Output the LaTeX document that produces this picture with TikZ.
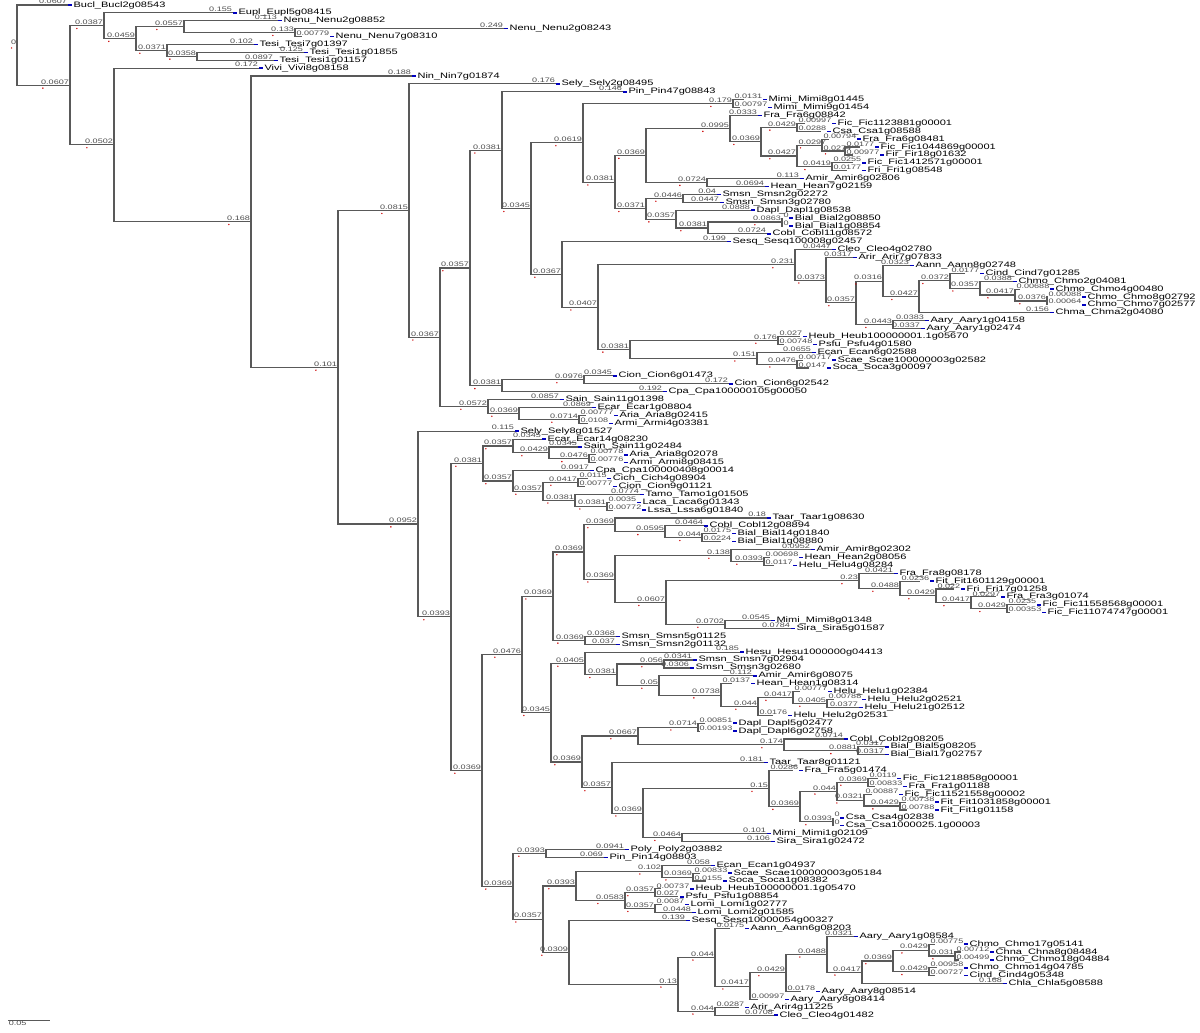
\documentclass[tikz,border=0pt]{standalone}
\usepackage{fontspec}
\usetikzlibrary{calc}
\newfontfamily\trf[FakeStretch=1.4]{Liberation Sans}
\newcommand\lbfont{\trf\fontsize{4.6}{5}\selectfont}
\newcommand\nmfont{\trf\fontsize{5.6}{6}\selectfont}
\tikzset{br/.style={draw=black!65,line width=0.8pt},
 bl/.style={font=\lbfont,text=black!70,inner sep=0.4pt},
 lf/.style={font=\nmfont,text=black,anchor=west,inner sep=0.6pt},
 bm/.style={draw=blue!75!black,line width=1pt},
 rd/.style={fill=red!80!black}}
% inner node: parent, name, x, y, branch length
\newcommand\inode[5]{\coordinate (#2) at (#3,#4);
 \draw[br] (#1) |- (#2) node[bl,anchor=south east] (l#2) {#5};
 \fill[rd] (#2) circle (0.55pt) ([xshift=2pt,yshift=-2pt]l#2.south west) circle (0.55pt);}
\newcommand\inodes[5]{\coordinate (#2) at (#3,#4);
 \draw[br] (#1) |- (#2);
 \node[bl,anchor=south west,xshift=0.5pt] (l#2) at (#1 |- #2) {#5};
 \fill[rd] (#2) circle (0.55pt) ([xshift=2pt,yshift=-2pt]l#2.south west) circle (0.55pt);}
% leaf: parent, name, x, row, branch length, gene
\newcommand\leaf[6]{\coordinate (#2) at (#3,#4);
 \draw[br] (#1) |- (#2) node[bl,anchor=south east] (l#2) {#5};
 \draw[bm] (#2) -- +(4,0) node[lf] (n#2) {#6};}
\newcommand\leafs[6]{\coordinate (#2) at (#3,#4);
 \draw[br] (#1) |- (#2);
 \node[bl,anchor=south west,xshift=0.5pt] (l#2) at (#1 |- #2) {#5};
 \draw[bm] (l#2.east |- #2) -- +(4,0) node[lf] (n#2) {#6};}
\begin{document}
\begin{tikzpicture}[x=0.025cm,y=-0.19725cm]
\useasboundingbox (0,0.366) rectangle (1200,131.16);
\coordinate (R) at (17,6.088);
\node[bl,anchor=south east] (lR) at (R) {0};
\fill[rd] (R) circle (0.55pt) ([xshift=1pt,yshift=-2pt]lR.south west) circle (0.55pt);
\leaf{R}{L1}{68}{1}{0.0607}{Bucl\_Bucl2g08543}
\inode{R}{A}{70}{11.176}{0.0607}
\inode{A}{B}{104}{3.625}{0.0387}
\leaf{B}{L2}{233}{2}{0.155}{Eupl\_Eupl5g08415}
\inode{B}{C}{136}{5.25}{0.0459}
\inode{C}{E}{184}{3.75}{0.0557}
\leaf{E}{L3}{278}{3}{0.113}{Nenu\_Nenu2g08852}
\inode{E}{G}{295}{4.5}{0.133}
\leaf{G}{L4}{504}{4}{0.249}{Nenu\_Nenu2g08243}
\leafs{G}{L5}{302}{5}{0.00779}{Nenu\_Nenu7g08310}
\inode{C}{F}{167}{6.75}{0.0371}
\leaf{F}{L6}{254}{6}{0.102}{Tesi\_Tesi7g01397}
\inode{F}{H}{197}{7.5}{0.0358}
\leaf{H}{L7}{304}{7}{0.125}{Tesi\_Tesi1g01855}
\leaf{H}{L8}{274}{8}{0.0897}{Tesi\_Tesi1g01157}
\inode{A}{D}{114}{18.727}{0.0502}
\leaf{D}{L9}{259}{9}{0.172}{Vivi\_Vivi8g08158}
\inode{D}{I}{251}{28.455}{0.168}
\leaf{I}{L10}{412}{10}{0.188}{Nin\_Nin7g01874}
\inode{I}{J}{338}{46.909}{0.101}
% upper clade
\inode{J}{K}{409}{27.050}{0.0815}
\leaf{K}{L11}{556}{11}{0.176}{Sely\_Sely2g08495}
\inode{K}{K2}{440}{43.101}{0.0367}
\inode{K2}{K3}{470}{34.327}{0.0357}
\inode{K3}{K5}{502}{19.403}{0.0381}
\leaf{K5}{L12}{623}{12}{0.146}{Pin\_Pin47g08843}
\inode{K5}{K7}{531}{26.806}{0.0345}
\inode{K7}{K8}{583}{18.473}{0.0619}
\inode{K8}{K10}{733}{13.5}{0.179}
\leafs{K10}{L13}{744}{13}{0.0131}{Mimi\_Mimi8g01445}
\leafs{K10}{L14}{740}{14}{0.00797}{Mimi\_Mimi9g01454}
\inode{K8}{K11}{615}{23.445}{0.0381}
\inode{K11}{P}{646}{20.078}{0.0369}
\inode{P}{P1}{730}{16.656}{0.0995}
\leaf{P1}{L15}{758}{15}{0.0333}{Fra\_Fra6g08842}
\inode{P1}{P3}{761}{18.313}{0.0369}
\inode{P3}{P4}{797}{16.5}{0.0429}
\leafs{P4}{L16}{805}{16}{0.00997}{Fic\_Fic1123881g00001}
\leafs{P4}{L17}{821}{17}{0.0288}{Csa\_Csa1g08588}
\inode{P3}{P5}{797}{20.125}{0.0427}
\inodes{P5}{P6}{822}{18.75}{0.0297}
\leafs{P6}{L18}{829}{18}{0.00794}{Fra\_Fra6g08481}
\inodes{P6}{P8}{845}{19.5}{0.0274}
\leafs{P8}{L19}{860}{19}{0.0177}{Fic\_Fic1044869g00001}
\leafs{P8}{L20}{853}{20}{0.00977}{Fir\_Fir18g01632}
\inode{P5}{P7}{832}{21.5}{0.0419}
\leafs{P7}{L21}{853}{21}{0.0255}{Fic\_Fic1412571g00001}
\leafs{P7}{L22}{847}{22}{0.0177}{Fri\_Fri1g08548}
\inode{P}{P2}{707}{23.5}{0.0724}
\leaf{P2}{L23}{800}{23}{0.113}{Amir\_Amir6g02806}
\leaf{P2}{L24}{765}{24}{0.0694}{Hean\_Hean7g02159}
\inode{K11}{Q}{646}{26.813}{0.0371}
\inode{Q}{S}{683}{25.5}{0.0446}
\leaf{S}{L25}{717}{25}{0.04}{Smsn\_Smsn2g02272}
\leaf{S}{L26}{720}{26}{0.0447}{Smsn\_Smsn3g02780}
\inode{Q}{T}{676}{28.125}{0.0357}
\leaf{T}{L27}{751}{27}{0.0888}{Dapl\_Dapl1g08538}
\inode{T}{U}{708}{29.25}{0.0381}
\inode{U}{V}{782}{28.5}{0.0863}
\leafs{V}{L28}{783}{28}{0}{Bial\_Bial2g08850}
\leafs{V}{L29}{783}{29}{0}{Bial\_Bial1g08854}
\leaf{U}{L30}{767}{30}{0.0724}{Cobl\_Cobl11g08572}
\inode{K7}{K9}{562}{35.140}{0.0367}
\leaf{K9}{L31}{727}{31}{0.199}{Sesq\_Sesq100008g02457}
\inode{K9}{W}{598}{39.280}{0.0407}
\inode{W}{X}{795}{33.936}{0.231}
\leaf{X}{L32}{832}{32}{0.0447}{Cleo\_Cleo4g02780}
\inode{X}{X1}{826}{35.871}{0.0373}
\leaf{X1}{L33}{853}{33}{0.0317}{Arir\_Arir7g07833}
\inode{X1}{X2}{856}{38.742}{0.0357}
\inode{X2}{X3}{883}{35.984}{0.0316}
\leaf{X3}{L34}{910}{34}{0.0323}{Aann\_Aann8g02748}
\inode{X3}{X5}{919}{37.969}{0.0427}
\inode{X5}{X6}{950}{35.938}{0.0372}
\leafs{X6}{L35}{965}{35}{0.0177}{Cind\_Cind7g01285}
\inode{X6}{X7}{980}{36.875}{0.0357}
\leaf{X7}{L36}{1013}{36}{0.0388}{Chmo\_Chmo2g04081}
\inode{X7}{X8}{1015}{37.75}{0.0417}
\leafs{X8}{L37}{1020}{37}{0.00688}{Chmo\_Chmo4g00480}
\inode{X8}{X9}{1047}{38.5}{0.0376}
\leafs{X9}{L38}{1048}{38}{0.00088}{Chmo\_Chmo8g02792}
\leafs{X9}{L39}{1048}{39}{0.00064}{Chmo\_Chmo7g02577}
\leaf{X5}{L40}{1050}{40}{0.156}{Chma\_Chma2g04080}
\inode{X2}{X4}{893}{41.5}{0.0443}
\leaf{X4}{L41}{925}{41}{0.0383}{Aary\_Aary1g04158}
\leaf{X4}{L42}{921}{42}{0.0337}{Aary\_Aary1g02474}
\inode{W}{Y}{630}{44.625}{0.0381}
\inode{Y}{Y1}{778}{43.5}{0.176}
\leafs{Y1}{L43}{800}{43}{0.027}{Heub\_Heub100000001.1g05670}
\leafs{Y1}{L44}{784}{44}{0.00748}{Psfu\_Psfu4g01580}
\inode{Y}{Y2}{757}{45.75}{0.151}
\leaf{Y2}{L45}{812}{45}{0.0655}{Ecan\_Ecan6g02588}
\inode{Y2}{Y3}{797}{46.5}{0.0476}
\leafs{Y3}{L46}{803}{46}{0.00717}{Scae\_Scae100000003g02582}
\leafs{Y3}{L47}{809}{47}{0.0147}{Soca\_Soca3g00097}
\inode{K3}{K6}{502}{49.25}{0.0381}
\inode{K6}{K6a}{584}{48.5}{0.0976}
\leaf{K6a}{L48}{613}{48}{0.0345}{Cion\_Cion6g01473}
\leaf{K6a}{L49}{729}{49}{0.172}{Cion\_Cion6g02542}
\leaf{K6}{L50}{663}{50}{0.192}{Cpa\_Cpa100000105g00050}
\inode{K2}{K4}{488}{51.875}{0.0572}
\leaf{K4}{L51}{560}{51}{0.0857}{Sain\_Sain11g01398}
\inode{K4}{K4a}{519}{52.75}{0.0369}
\leaf{K4a}{L52}{592}{52}{0.0869}{Ecar\_Ecar1g08804}
\inode{K4a}{K4b}{579}{53.5}{0.0714}
\leafs{K4b}{L53}{586}{53}{0.00777}{Aria\_Aria8g02415}
\leafs{K4b}{L54}{588}{54}{0.0108}{Armi\_Armi4g03381}
% lower clade
\inode{J}{M}{418}{66.768}{0.0952}
\leaf{M}{L55}{515}{55}{0.115}{Sely\_Sely8g01527}
\inode{M}{M2}{451}{78.535}{0.0393}
\inode{M2}{M3}{483}{59.094}{0.0381}
\inode{M3}{M5}{513}{56.875}{0.0357}
\leaf{M5}{L56}{542}{56}{0.0345}{Ecar\_Ecar14g08230}
\inode{M5}{M5a}{549}{57.75}{0.0429}
\leaf{M5a}{L57}{578}{57}{0.0345}{Sain\_Sain11g02484}
\inode{M5a}{M5b}{589}{58.5}{0.0476}
\leafs{M5b}{L58}{596}{58}{0.00778}{Aria\_Aria8g02078}
\leafs{M5b}{L59}{596}{59}{0.00776}{Armi\_Armi8g08415}
\inode{M3}{M6}{513}{61.313}{0.0357}
\leaf{M6}{L60}{590}{60}{0.0917}{Cpa\_Cpa100000408g00014}
\inode{M6}{M7}{543}{62.625}{0.0357}
\inode{M7}{M7a}{578}{61.5}{0.0417}
\leafs{M7a}{L61}{588}{61}{0.0115}{Cich\_Cich4g08904}
\leafs{M7a}{L62}{585}{62}{0.00777}{Cion\_Cion9g01121}
\inode{M7}{M7b}{575}{63.75}{0.0381}
\leaf{M7b}{L63}{640}{63}{0.0774}{Tamo\_Tamo1g01505}
\inode{M7b}{M7c}{607}{64.5}{0.0381}
\leafs{M7c}{L64}{610}{64}{0.0035}{Laca\_Laca6g01343}
\leafs{M7c}{L65}{613}{65}{0.00772}{Lssa\_Lssa6g01840}
\inode{M2}{M4}{482}{97.977}{0.0369}
\inode{M4}{M8}{522}{83.287}{0.0476}
\inode{M8}{M10}{553}{75.904}{0.0369}
\inode{M10}{M12}{584}{70.309}{0.0369}
\inode{M12}{M14}{615}{66.875}{0.0369}
\leaf{M14}{L66}{767}{66}{0.18}{Taar\_Taar1g08630}
\inode{M14}{M16}{665}{67.75}{0.0595}
\leaf{M16}{L67}{704}{67}{0.0464}{Cobl\_Cobl12g08894}
\inode{M16}{M17}{702}{68.5}{0.044}
\leafs{M17}{L68}{717}{68}{0.0175}{Bial\_Bial14g01840}
\leafs{M17}{L69}{721}{69}{0.0224}{Bial\_Bial1g08880}
\inode{M12}{M15}{615}{73.742}{0.0369}
\inode{M15}{M18}{731}{70.75}{0.138}
\leaf{M18}{L70}{811}{70}{0.0952}{Amir\_Amir8g02302}
\inode{M18}{M19}{764}{71.5}{0.0393}
\leafs{M19}{L71}{770}{71}{0.00698}{Hean\_Hean2g08056}
\leafs{M19}{L72}{774}{72}{0.0117}{Helu\_Helu4g08284}
\inode{M15}{M20}{666}{76.734}{0.0607}
\inode{M20}{M21}{859}{73.969}{0.23}
\leaf{M21}{L73}{894}{73}{0.0421}{Fra\_Fra8g08178}
\inode{M21}{M22}{900}{74.938}{0.0488}
\leafs{M22}{L74}{920}{74}{0.0236}{Fit\_Fit1601129g00001}
\inode{M22}{M23}{936}{75.875}{0.0429}
\leafs{M23}{L75}{954}{75}{0.022}{Fri\_Fri17g01258}
\inode{M23}{M24}{971}{76.75}{0.0417}
\leafs{M24}{L76}{996}{76}{0.0297}{Fra\_Fra3g01074}
\inode{M24}{M25}{1007}{77.5}{0.0429}
\leafs{M25}{L77}{1027}{77}{0.0235}{Fic\_Fic11558568g00001}
\leafs{M25}{L78}{1010}{78}{0.00353}{Fic\_Fic11074747g00001}
\inode{M20}{M26}{725}{79.5}{0.0702}
\leaf{M26}{L79}{771}{79}{0.0545}{Mimi\_Mimi8g01348}
\leaf{M26}{L80}{791}{80}{0.0784}{Sira\_Sira5g01587}
\inode{M10}{M13}{585}{81.5}{0.0369}
\leaf{M13}{L81}{616}{81}{0.0368}{Smsn\_Smsn5g01125}
\leaf{M13}{L82}{616}{82}{0.037}{Smsn\_Smsn2g01132}
\inode{M8}{M11}{551}{90.670}{0.0345}
\inode{M11}{M27}{585}{84.430}{0.0405}
\leaf{M27}{L83}{740}{83}{0.185}{Hesu\_Hesu1000000g04413}
\inode{M27}{M28}{617}{85.859}{0.0381}
\inode{M28}{M29}{664}{84.5}{0.056}
\leaf{M29}{L84}{693}{84}{0.0341}{Smsn\_Smsn7g02904}
\leaf{M29}{L85}{690}{85}{0.0306}{Smsn\_Smsn3g02680}
\inode{M28}{M30}{659}{87.219}{0.05}
\leaf{M30}{L86}{753}{86}{0.112}{Amir\_Amir6g08075}
\inode{M30}{M31}{721}{88.438}{0.0738}
\leafs{M31}{L87}{732}{87}{0.0137}{Hean\_Hean1g08314}
\inode{M31}{M32}{758}{89.875}{0.044}
\inode{M32}{M33}{793}{88.75}{0.0417}
\leafs{M33}{L88}{800}{88}{0.00777}{Helu\_Helu1g02384}
\inode{M33}{M34}{827}{89.5}{0.0405}
\leafs{M34}{L89}{834}{89}{0.00788}{Helu\_Helu2g02521}
\leaf{M34}{L90}{859}{90}{0.0377}{Helu\_Helu21g02512}
\leafs{M32}{L91}{773}{91}{0.0176}{Helu\_Helu2g02531}
\inode{M11}{M35}{582}{96.910}{0.0369}
\inode{M35}{M48}{638}{93.625}{0.0667}
\inode{M48}{M36}{698}{92.5}{0.0714}
\leafs{M36}{L92}{705}{92}{0.00851}{Dapl\_Dapl5g02477}
\leafs{M36}{L93}{700}{93}{0.00193}{Dapl\_Dapl6g02758}
\inode{M48}{M37}{784}{94.75}{0.174}
\leaf{M37}{L94}{844}{94}{0.0714}{Cobl\_Cobl2g08205}
\inode{M37}{M38}{858}{95.5}{0.0881}
\leaf{M38}{L95}{885}{95}{0.0317}{Bial\_Bial5g08205}
\leaf{M38}{L96}{885}{96}{0.0317}{Bial\_Bial17g02757}
\inode{M35}{M49}{612}{100.195}{0.0357}
\leaf{M49}{L97}{764}{97}{0.181}{Taar\_Taar8g01121}
\inode{M49}{M41}{643}{103.391}{0.0369}
\inode{M41}{M39}{769}{100.281}{0.15}
\leafs{M39}{L98}{793}{98}{0.0286}{Fra\_Fra5g01474}
\inode{M39}{M42}{800}{102.563}{0.0369}
\inode{M42}{M43}{837}{100.625}{0.044}
\inode{M43}{M44}{868}{99.5}{0.0369}
\leafs{M44}{L99}{878}{99}{0.0119}{Fic\_Fic1218858g00001}
\leafs{M44}{L100}{875}{100}{0.00833}{Fra\_Fra1g01188}
\inode{M43}{M45}{864}{101.75}{0.0321}
\leafs{M45}{L101}{872}{101}{0.00887}{Fic\_Fic11521558g00002}
\inode{M45}{M46}{900}{102.5}{0.0429}
\leafs{M46}{L102}{906}{102}{0.00738}{Fit\_Fit1031858g00001}
\leafs{M46}{L103}{907}{103}{0.00788}{Fit\_Fit1g01158}
\inode{M42}{M47}{833}{104.5}{0.0393}
\leafs{M47}{L104}{833}{104}{0}{Csa\_Csa4g02838}
\leafs{M47}{L105}{833}{105}{0}{Csa\_Csa1000025.1g00003}
\inode{M41}{M40}{682}{106.5}{0.0464}
\leaf{M40}{L106}{767}{106}{0.101}{Mimi\_Mimi1g02109}
\leaf{M40}{L107}{771}{107}{0.106}{Sira\_Sira1g02472}
\inode{M4}{M9}{513}{112.666}{0.0369}
\inode{M9}{M50}{546}{108.5}{0.0393}
\leaf{M50}{L108}{625}{108}{0.0941}{Poly\_Poly2g03882}
\leaf{M50}{L109}{604}{109}{0.069}{Pin\_Pin14g08803}
\inode{M9}{M51}{543}{116.833}{0.0357}
\inode{M51}{M52}{576}{112.625}{0.0393}
\inode{M52}{M53}{662}{110.75}{0.102}
\leaf{M53}{L110}{711}{110}{0.058}{Ecan\_Ecan1g04937}
\inode{M53}{M54}{693}{111.5}{0.0369}
\leafs{M54}{L111}{700}{111}{0.00833}{Scae\_Scae100000003g05184}
\leafs{M54}{L112}{706}{112}{0.0155}{Soca\_Soca1g08382}
\inode{M52}{M55}{625}{114.5}{0.0583}
\inode{M55}{M56}{655}{113.5}{0.0357}
\leafs{M56}{L113}{661}{113}{0.00737}{Heub\_Heub100000001.1g05470}
\leafs{M56}{L114}{678}{114}{0.027}{Psfu\_Psfu1g08854}
\inode{M55}{M57}{655}{115.5}{0.0357}
\leafs{M57}{L115}{662}{115}{0.0087}{Lomi\_Lomi1g02777}
\leaf{M57}{L116}{692}{116}{0.0448}{Lomi\_Lomi2g01585}
\inode{M51}{M58}{569}{121.040}{0.0309}
\leaf{M58}{L117}{686}{117}{0.139}{Sesq\_Sesq10000054g00327}
\inode{M58}{M59}{678}{125.080}{0.13}
\inode{M59}{M60}{715}{121.660}{0.044}
\leafs{M60}{L118}{730}{118}{0.0175}{Aann\_Aann6g08203}
\inode{M60}{M61}{750}{125.320}{0.0417}
\inode{M61}{M62}{786}{123.641}{0.0429}
\inode{M62}{M63}{827}{121.281}{0.0488}
\leaf{M63}{L119}{854}{119}{0.0321}{Aary\_Aary1g08584}
\inode{M63}{M64}{862}{123.563}{0.0417}
\inode{M64}{M65}{893}{122.125}{0.0369}
\inode{M65}{M66}{929}{120.75}{0.0429}
\leafs{M66}{L120}{935}{120}{0.00775}{Chmo\_Chmo17g05141}
\inode{M66}{M67}{955}{121.5}{0.031}
\leafs{M67}{L121}{961}{121}{0.00712}{Chna\_Chna8g08484}
\leafs{M67}{L122}{959}{122}{0.00499}{Chmo\_Chmo18g04884}
\inode{M65}{M68}{929}{123.5}{0.0429}
\leafs{M68}{L123}{937}{123}{0.00958}{Chmo\_Chmo14g04785}
\leafs{M68}{L124}{935}{124}{0.00727}{Cind\_Cind4g05348}
\leaf{M64}{L125}{1003}{125}{0.168}{Chla\_Chla5g08588}
\leafs{M62}{L126}{801}{126}{0.0178}{Aary\_Aary8g08514}
\leafs{M61}{L127}{758}{127}{0.00997}{Aary\_Aary8g08414}
\inode{M59}{M69}{715}{128.5}{0.044}
\leafs{M69}{L128}{739}{128}{0.0287}{Arir\_Arir4g11225}
\leaf{M69}{L129}{774}{129}{0.0708}{Cleo\_Cleo4g01482}
% scale bar
\coordinate (s0) at (8,129.64);
\coordinate (s1) at (50,129.64);
\draw[br,line width=0.5pt] (s0) -- (s1);
\node[bl,anchor=north west] (sl) at (s0) {0.05};
\end{tikzpicture}
\end{document}
